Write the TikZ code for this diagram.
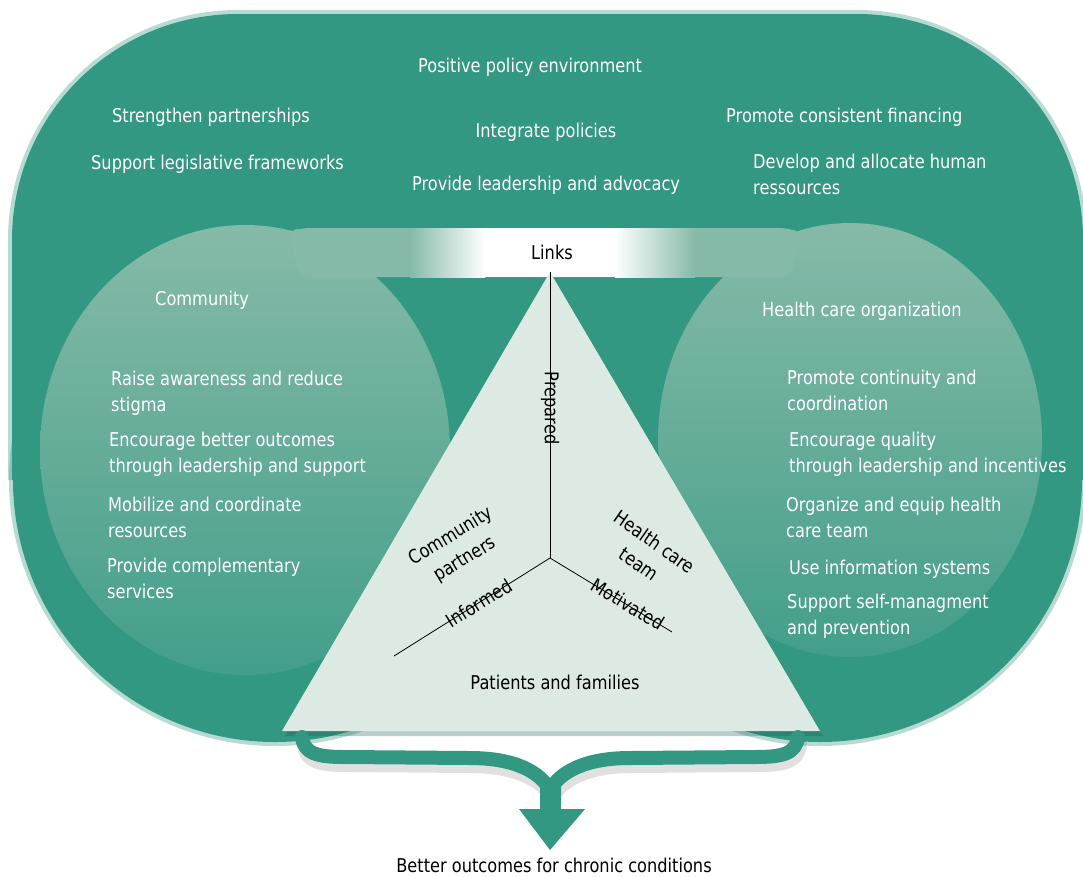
\documentclass[tikz,border=0pt]{standalone}
\usepackage{fontspec}
\setmainfont{DejaVu Sans}[FakeStretch=0.853]
\usetikzlibrary{positioning}

\definecolor{policygreen}{RGB}{50,152,130}
\definecolor{circlegreen}{RGB}{134,186,168}
\definecolor{pyramid}{RGB}{221,234,228}

\tikzstyle{whitetext} = [anchor=west, inner sep=0pt, align=left, text=white, font=\fontsize{19}{26}\selectfont]
\tikzstyle{blacktext} = [inner sep=0pt, align=center, text=black, font=\fontsize{19}{27}\selectfont]
\tikzstyle{outband} = [draw=policygreen, line width=14pt, line cap=round]
\tikzstyle{spoke} = [draw=black, line width=0.8pt]
\tikzstyle{softedge} = [draw=policygreen, opacity=0.35, line width=8pt]

\begin{document}
\begin{tikzpicture}[x=1pt, y=1pt]
        \useasboundingbox (0,0) rectangle (1083,-876);

        % outer policy shape, soft rim first
        \draw[softedge] (12,-480) -- (12,-240) arc[start angle=180, end angle=90, radius=226]
            -- (857,-14) arc[start angle=90, end angle=0, radius=226] -- (1083,-480);
        \draw[softedge] (275,-480) circle (262);
        \draw[softedge] (820,-480) circle (262);
        \fill[policygreen] (12,-480) -- (12,-240) arc[start angle=180, end angle=90, radius=226]
            -- (857,-14) arc[start angle=90, end angle=0, radius=226] -- (1083,-480) -- cycle;
        \fill[policygreen] (275,-480) circle (262);
        \fill[policygreen] (820,-480) circle (262);

        % community and organization circles
        \shade[top color=circlegreen, middle color=circlegreen!92!policygreen, bottom color=policygreen!80!circlegreen]
            (245,-450) ellipse [x radius=205, y radius=225];
        \shade[top color=circlegreen, middle color=circlegreen!92!policygreen, bottom color=policygreen!80!circlegreen]
            (850,-440) ellipse [x radius=192, y radius=217];

        % links band
        \fill[circlegreen, rounded corners=10pt] (288,-232) -- (300,-228) -- (790,-228) -- (802,-234) -- (790,-277) -- (300,-277) -- cycle;
        \shade[left color=circlegreen, right color=white] (410,-228) rectangle (485,-277);
        \fill[white] (485,-228) rectangle (615,-277);
        \shade[left color=white, right color=circlegreen] (615,-228) rectangle (695,-277);

        % pyramid
        \coordinate (apex) at (550,-272);
        \coordinate (bl) at (282,-731);
        \coordinate (br) at (820,-731);
        \coordinate (hub) at (550,-558);
        \coordinate (inf) at (394,-656);
        \coordinate (mot) at (672,-632);
        \fill[policygreen!60!black, opacity=0.3] ([shift={(3,-5)}]apex) -- ([shift={(3,-5)}]bl) -- ([shift={(3,-5)}]br) -- cycle;
        \fill[pyramid] (apex) -- (bl) -- (br) -- cycle;
        \draw[spoke] (hub) -- (apex);
        \draw[spoke] (hub) -- (inf);
        \draw[spoke] (hub) -- (mot);

        % outcome bracket
        \coordinate (tailL) at (302,-737);
        \coordinate (tailR) at (798,-737);
        \coordinate (merge) at (550,-790);
        \coordinate (tip) at (550,-850);
        \draw[outband, draw=black, opacity=0.12] ([shift={(2,-8)}]tailL) .. controls (306,-762) and (320,-765) .. (347,-765) -- (470,-766)
            .. controls (515,-766) and (542,-780) .. ([shift={(2,-8)}]merge);
        \draw[outband, draw=black, opacity=0.12] ([shift={(2,-8)}]tailR) .. controls (798,-762) and (784,-765) .. (757,-765) -- (632,-766)
            .. controls (587,-766) and (562,-780) .. ([shift={(2,-8)}]merge);
        \draw[outband] (tailL) .. controls (304,-754) and (318,-757) .. (345,-757) -- (470,-758)
            .. controls (515,-758) and (540,-772) .. (merge);
        \draw[outband] (tailR) .. controls (796,-754) and (782,-757) .. (755,-757) -- (630,-758)
            .. controls (585,-758) and (560,-772) .. (merge);
        \fill[policygreen] (540,-785) -- (540,-809) -- (519,-809) -- (tip) -- (585,-809) -- (561,-809) -- (561,-785) -- cycle;

        % policy environment
        \node (policy)  [whitetext, anchor=center] at (530,-67) {Positive policy environment};
        \node (partner) [whitetext] at (112,-117) {Strengthen partnerships};
        \node (legis)   [whitetext] at (91,-164) {Support legislative frameworks};
        \node (integ)   [whitetext, anchor=center] at (546,-132) {Integrate policies};
        \node (lead)    [whitetext, anchor=center] at (546,-185) {Provide leadership and advocacy};
        \node (finance) [whitetext] at (726,-117) {Promote consistent financing};
        \node (human)   [whitetext] at (753,-174) {Develop and allocate human\\ressources};

        % community
        \node (comm)    [whitetext] at (155,-300) {Community};
        \node (aware)   [whitetext] at (111,-393) {Raise awareness and reduce\\stigma};
        \node (encour)  [whitetext] at (109,-454) {Encourage better outcomes\\through leadership and support};
        \node (mobil)   [whitetext] at (108,-517) {Mobilize and coordinate\\resources};
        \node (compl)   [whitetext] at (107,-578) {Provide complementary\\services};

        % health care organization
        \node (hco)     [whitetext] at (762,-311) {Health care organization};
        \node (contin)  [whitetext] at (787,-390) {Promote continuity and\\coordination};
        \node (quality) [whitetext] at (789,-454) {Encourage quality\\through leadership and incentives};
        \node (equip)   [whitetext] at (786,-517) {Organize and equip health\\care team};
        \node (infosys) [whitetext] at (789,-569) {Use information systems};
        \node (selfman) [whitetext] at (787,-616) {Support self-managment\\and prevention};

        % pyramid labels
        \node (links)    [blacktext] at (552,-252) {Links};
        \node (prepared) [blacktext, rotate=-90] at (550,-408) {Prepared};
        \node (informed) [blacktext, rotate=32] at (479,-603) {Informed};
        \node (motiv)    [blacktext, rotate=-31] at (628,-604) {Motivated};
        \node (cpart)    [blacktext, rotate=31] at (458,-548) {Community\\partners};
        \node (hcteam)   [blacktext, rotate=-35] at (647,-553) {Health care\\team};
        \node (patients) [blacktext] at (555,-682) {Patients and families};
        \node (outcome)  [blacktext] at (554,-865) {Better outcomes for chronic conditions};
    \end{tikzpicture}
\end{document}
